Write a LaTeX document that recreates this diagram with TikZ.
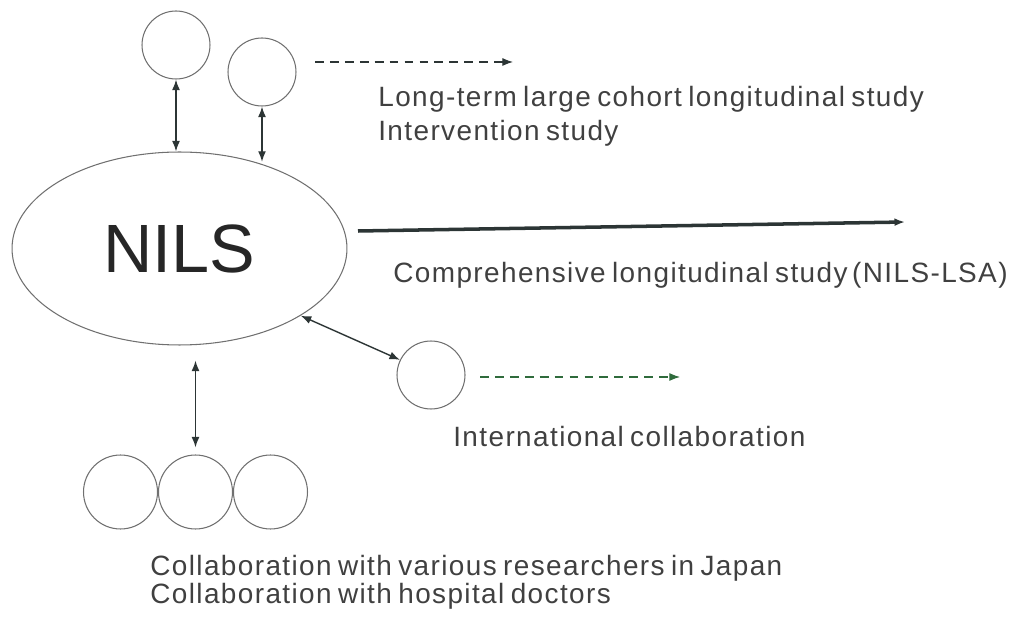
\documentclass[tikz,border=0pt]{standalone}
\usepackage{fontspec}
\setmainfont{Liberation Sans}
\usetikzlibrary{arrows.meta,shapes.geometric}
\definecolor{inkgray}{HTML}{404040}
\definecolor{linegray}{HTML}{707070}
\definecolor{arrowgray}{HTML}{2C3535}
\definecolor{dashgreen}{HTML}{2F6B3C}
\newfontfamily\labelfont[LetterSpace=5,WordSpace=0.7]{Liberation Sans}
\tikzset{>={Latex[length=6pt,width=4.5pt]}}
\tikzset{
  member/.style={circle,draw=linegray,line width=0.6pt,minimum size=1.36cm,inner sep=0pt},
  link/.style={<->,draw=arrowgray,line width=0.8pt},
  plan/.style={->,draw=arrowgray,line width=0.6pt,dash pattern=on 5pt off 3.5pt},
  label/.style={anchor=base west,inner sep=0pt,text=inkgray,
    font=\labelfont\fontsize{15.9}{19}\selectfont}
}

\begin{document}
\begin{tikzpicture}[x=0.02cm,y=-0.02cm]
\useasboundingbox (0,0) rectangle (1021,621);
    % NILS
    \node[ellipse,draw=linegray,line width=0.6pt,minimum width=6.7cm,minimum height=3.86cm,inner sep=0pt,
      text=black!85,font=\fontsize{38.9}{40}\selectfont] (nils) at (179.5,248.5) {NILS};
    % researchers on top
    \node[member] (top1) at (176,45) {};
    \node[member] (top2) at (262,72) {};
    \draw[link] (top1.south) -- (top1.south |- nils.north);
    \draw[link] (top2.south) -- (top2.south |- nils.49);
    \coordinate (cohortfrom) at (315,62);
    \coordinate (cohortto) at (513,62);
    \draw[plan] (cohortfrom) -- (cohortto);
    \node[label] (cohorttxt) at (378,107) {Long-term large cohort longitudinal study};
    \node[label] (intervtxt) at (378,141) {Intervention study};
    % main line
    \coordinate (lsafrom) at (358,231);
    \coordinate (lsato) at (905,222);
    \draw[->,draw=arrowgray,line width=2pt] (lsafrom) -- (lsato);
    \node[label] (lsatxt) at (393,283) {Comprehensive longitudinal study\,(NILS-LSA)};
    % international
    \node[member] (intl) at (431,375) {};
    \draw[link] (nils.-29) -- (intl.154);
    \coordinate (intlfrom) at (480,377);
    \coordinate (intlto) at (680,377);
    \draw[plan,draw=dashgreen] (intlfrom) -- (intlto);
    \node[label] (intltxt) at (453,446) {International collaboration};
    % researchers in Japan
    \node[member,minimum size=1.48cm] (jp1) at (120.5,492) {};
    \node[member,minimum size=1.48cm] (jp2) at (195.5,492) {};
    \node[member,minimum size=1.48cm] (jp3) at (270.5,492) {};
    \draw[link,shorten <=0.3cm,shorten >=0.14cm] (nils.south -| jp2.north) -- (jp2.north);
    \node[label] (japantxt) at (150,575) {Collaboration with various researchers in Japan};
    \node[label] (hosptxt) at (150,603) {Collaboration with hospital doctors};
\end{tikzpicture}
\end{document}
